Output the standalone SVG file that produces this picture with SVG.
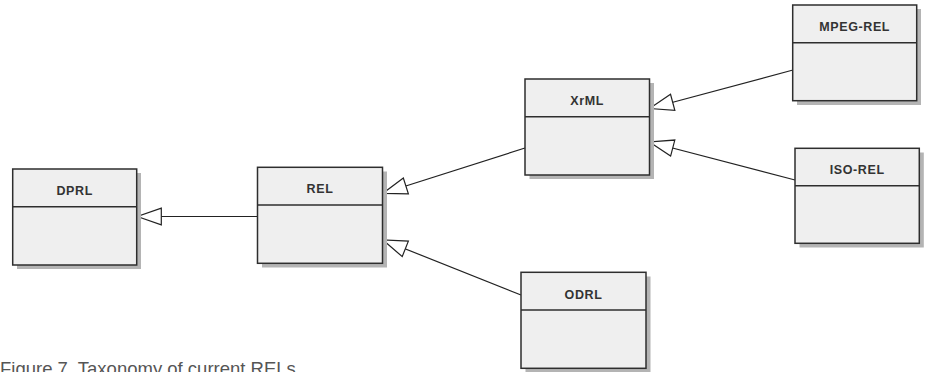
<svg xmlns="http://www.w3.org/2000/svg" width="927" height="372" viewBox="0 0 927 372">
  <style>
    .shadow { fill: #b4b4b4; }
    .box { fill: #efefef; stroke: #2e2e2e; stroke-width: 1.5; }
    .div { stroke: #2e2e2e; stroke-width: 1.5; }
    .name { font-family: "Liberation Sans", Arial, sans-serif; font-weight: bold; font-size: 12.5px; letter-spacing: 0.6px; fill: #333; text-anchor: middle; }
    .edge { stroke: #222; stroke-width: 1.2; fill: none; marker-end: url(#gen); }
    .caption { font-family: "Liberation Sans", Arial, sans-serif; font-size: 18.5px; fill: #555; }
  </style>
  <defs>
    <!-- hollow generalization triangle, tip at the line end -->
    <marker id="gen" markerUnits="userSpaceOnUse" markerWidth="30" markerHeight="20" refX="0" refY="0" orient="auto" overflow="visible">
      <path d="M0,0 L-24,-8.3 L-24,8.3 Z" fill="#fff" stroke="#222" stroke-width="1.2"/>
    </marker>
  </defs>

  <rect width="927" height="372" fill="#fff"/>

  <g id="connectors">
    <line class="edge" x1="257" y1="216.5" x2="137.3" y2="216.5"/>
    <line class="edge" x1="525" y1="148" x2="383" y2="193.3"/>
    <line class="edge" x1="521" y1="295" x2="383" y2="240"/>
    <line class="edge" x1="793" y1="70" x2="649.5" y2="108.5"/>
    <line class="edge" x1="795" y1="180" x2="649.5" y2="142"/>
  </g>

  <g id="DPRL">
    <rect class="shadow" x="17" y="173" width="124" height="96"/>
    <rect class="box" x="12.7" y="169" width="124" height="96"/>
    <line class="div" x1="12.7" y1="206.7" x2="136.7" y2="206.7"/>
    <text class="name" x="74.7" y="195">DPRL</text>
  </g>

  <g id="REL">
    <rect class="shadow" x="262" y="171.5" width="125" height="96"/>
    <rect class="box" x="257.5" y="167.3" width="125" height="96"/>
    <line class="div" x1="257.5" y1="205" x2="382.5" y2="205"/>
    <text class="name" x="320" y="193.3">REL</text>
  </g>

  <g id="XrML">
    <rect class="shadow" x="529.5" y="83" width="124.5" height="96"/>
    <rect class="box" x="525" y="79" width="124.5" height="96"/>
    <line class="div" x1="525" y1="116.7" x2="649.5" y2="116.7"/>
    <text class="name" x="587.2" y="105">XrML</text>
  </g>

  <g id="MPEG-REL">
    <rect class="shadow" x="797" y="9" width="124" height="96"/>
    <rect class="box" x="792.7" y="5" width="124" height="95.7"/>
    <line class="div" x1="792.7" y1="42.7" x2="916.7" y2="42.7"/>
    <text class="name" x="854.7" y="31">MPEG-REL</text>
  </g>

  <g id="ISO-REL">
    <rect class="shadow" x="799.5" y="152.5" width="124.3" height="95"/>
    <rect class="box" x="795" y="148.3" width="124.3" height="95"/>
    <line class="div" x1="795" y1="185.7" x2="919.3" y2="185.7"/>
    <text class="name" x="857.2" y="174.3">ISO-REL</text>
  </g>

  <g id="ODRL">
    <rect class="shadow" x="525.5" y="276.5" width="125" height="96"/>
    <rect class="box" x="521" y="272.3" width="125" height="96"/>
    <line class="div" x1="521" y1="310" x2="646" y2="310"/>
    <text class="name" x="583.5" y="298.5">ODRL</text>
  </g>

  <!-- caption runs past the lower edge of the canvas -->
  <text class="caption" x="0" y="374.5">Figure 7. Taxonomy of current RELs</text>
</svg>
